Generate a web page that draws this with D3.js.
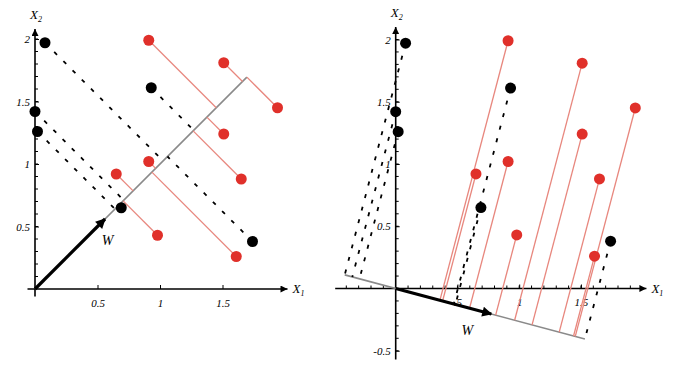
<!DOCTYPE html>
<html><head><meta charset="utf-8">
<script src="https://cdn.jsdelivr.net/npm/d3@7"></script>
<style>
body{margin:0;background:#fff;}
svg text{font-family:"Liberation Serif","DejaVu Serif",serif;font-style:italic;}
</style></head>
<body><svg id="c" width="684" height="369"></svg>
<script>
// ---- data ----
const blackX = [0.08, 0.00, 0.02, 0.93, 0.69, 1.74];
const blackY = [1.97, 1.42, 1.26, 1.61, 0.65, 0.38];
const redX = [0.91, 1.51, 1.94, 1.51, 1.65, 0.91, 0.65, 0.98, 1.61];
const redY = [1.99, 1.81, 1.45, 1.24, 0.88, 1.02, 0.92, 0.43, 0.26];
const wLeft = [0.56, 0.56];
const wRight = [0.774, -0.205];
const leftXTicks = [0.5, 1, 1.5];
const leftXLabels = ["0.5", "1", "1.5"];
const leftYTicks = [0.5, 1, 1.5, 2];
const leftYLabels = ["0.5", "1", "1.5", "2"];
const rightXTicks = [0.5, 1, 1.5];
const rightXLabels = [".5", "1", "1.5"];
const rightYTicks = [-0.5, 0.5, 1, 1.5, 2];
const rightYLabels = ["-0.5", "0.5", "1", "1.5", "2"];

const svg = d3.select("#c");
const defs = svg.append("defs");
defs.append("marker").attr("id","ax").attr("viewBox","0 0 10 10").attr("refX",10).attr("refY",5)
  .attr("markerWidth",9).attr("markerHeight",7).attr("markerUnits","userSpaceOnUse").attr("orient","auto")
  .append("path").attr("d","M0,0L10,5L0,10z").attr("fill","#000");
defs.append("marker").attr("id","wa").attr("viewBox","0 0 10 10").attr("refX",9).attr("refY",5)
  .attr("markerWidth",14).attr("markerHeight",10).attr("markerUnits","userSpaceOnUse").attr("orient","auto")
  .append("path").attr("d","M0,0L10,5L0,10z").attr("fill","#000");

const blacks = blackX.map((x,i)=>({x, y:blackY[i]}));
const reds = redX.map((x,i)=>({x, y:redY[i]}));

function panel(cfg){
  const {x, y, w, xDom, yDom, xT, xL, yT, yL, minorX, minorY, wLabel, startAtOrigin} = cfg;
  const g = svg.append("g");
  // axes lines with arrows
  g.append("line").attr("x1",x(xDom[0])).attr("x2",x(xDom[1])).attr("y1",y(0)).attr("y2",y(0))
    .attr("stroke","#000").attr("stroke-width",1.6).attr("marker-end","url(#ax)");
  g.append("line").attr("x1",x(0)).attr("x2",x(0)).attr("y1",y(yDom[0])).attr("y2",y(yDom[1]))
    .attr("stroke","#000").attr("stroke-width",1.6).attr("marker-end","url(#ax)");
  // minor ticks
  const mx = d3.range(Math.ceil(xDom[0]*10), Math.floor(xDom[1]*10)+1).map(v=>v/10).filter(v=>Math.abs(v)>1e-9 && v < xDom[1]-0.06);
  const my = d3.range(Math.ceil(yDom[0]*10), Math.floor(yDom[1]*10)+1).map(v=>v/10).filter(v=>Math.abs(v)>1e-9 && v < yDom[1]-0.06);
  if(minorX){
    g.selectAll(".mx").data(mx).join("line").attr("x1",d=>x(d)).attr("x2",d=>x(d))
      .attr("y1",y(0)).attr("y2",y(0)-3).attr("stroke","#000").attr("stroke-width",1);
  }
  if(minorY){
    g.selectAll(".my").data(my).join("line").attr("y1",d=>y(d)).attr("y2",d=>y(d))
      .attr("x1",x(0)).attr("x2",x(0)+3).attr("stroke","#000").attr("stroke-width",1);
  }
  // major ticks via d3 axes
  const ax = g.append("g").attr("transform",`translate(0,${y(0)})`)
    .call(d3.axisBottom(x).tickValues(xT).tickFormat((d,i)=>xL[i]).tickSizeInner(-4).tickSizeOuter(0).tickPadding(8));
  ax.select(".domain").remove();
  ax.selectAll("text").attr("font-size",11).attr("font-family",null).attr("dy","0.9em");
  const ay = g.append("g").attr("transform",`translate(${x(0)},0)`)
    .call(d3.axisLeft(y).tickValues(yT).tickFormat((d,i)=>yL[i]).tickSizeInner(-4).tickSizeOuter(0).tickPadding(5));
  ay.select(".domain").remove();
  ay.selectAll("text").attr("font-size",11).attr("font-family",null);
  // axis titles
  const tx = g.append("text").attr("x",x(xDom[1])+5).attr("y",y(0)+4).attr("font-size",13);
  tx.append("tspan").text("X");
  tx.append("tspan").attr("font-size",8).attr("dy",3).text("1");
  const ty = g.append("text").attr("x",x(0)-5).attr("y",y(yDom[1])-10).attr("font-size",13);
  ty.append("tspan").text("X");
  ty.append("tspan").attr("font-size",8).attr("dy",3).text("2");

  // projection
  const n = Math.hypot(w[0], w[1]);
  const u = [w[0]/n, w[1]/n];
  const proj = p => { const t = p.x*u[0]+p.y*u[1]; return {t, x:t*u[0], y:t*u[1]}; };
  const all = blacks.concat(reds).map(p=>proj(p).t);
  const tMin = startAtOrigin ? Math.min(0, d3.min(all)) : d3.min(all);
  const tMax = d3.max(all);
  g.append("line").attr("x1",x(tMin*u[0])).attr("y1",y(tMin*u[1])).attr("x2",x(tMax*u[0])).attr("y2",y(tMax*u[1]))
    .attr("stroke","#8a8a8a").attr("stroke-width",1.6);
  g.selectAll(".rl").data(reds).join("line")
    .attr("x1",d=>x(d.x)).attr("y1",d=>y(d.y)).attr("x2",d=>x(proj(d).x)).attr("y2",d=>y(proj(d).y))
    .attr("stroke","#e8877e").attr("stroke-width",1.3);
  g.selectAll(".bl").data(blacks).join("line")
    .attr("x1",d=>x(d.x)).attr("y1",d=>y(d.y)).attr("x2",d=>x(proj(d).x)).attr("y2",d=>y(proj(d).y))
    .attr("stroke","#000").attr("stroke-width",1.8).attr("stroke-dasharray","4,9");
  // w arrow
  g.append("line").attr("x1",x(0)).attr("y1",y(0)).attr("x2",x(w[0])).attr("y2",y(w[1]))
    .attr("stroke","#000").attr("stroke-width",3.2).attr("marker-end","url(#wa)");
  g.append("text").attr("x",wLabel[0]).attr("y",wLabel[1]).attr("font-size",14).attr("text-anchor","middle").text("W");
  // points
  g.selectAll(".rp").data(reds).join("circle").attr("cx",d=>x(d.x)).attr("cy",d=>y(d.y)).attr("r",5.5).attr("fill","#e0302a");
  g.selectAll(".bp").data(blacks).join("circle").attr("cx",d=>x(d.x)).attr("cy",d=>y(d.y)).attr("r",5.5).attr("fill","#000");
}

// left panel
const xLs = d3.scaleLinear().domain([0,1]).range([35,160]);
const yLs = d3.scaleLinear().domain([0,1]).range([289,164]);
panel({x:xLs, y:yLs, w:wLeft, xDom:[-0.06, 2.02], yDom:[-0.06, 2.08],
  xT:leftXTicks, xL:leftXLabels, yT:leftYTicks, yL:leftYLabels, minorX:false, minorY:true,
  wLabel:[xLs(0.58), yLs(0.35)], startAtOrigin:true});

// right panel
const xRs = d3.scaleLinear().domain([0,1]).range([395.7,519.2]);
const yRs = d3.scaleLinear().domain([0,1]).range([288.5,164]);
panel({x:xRs, y:yRs, w:wRight, xDom:[-0.49, 2.03], yDom:[-0.57, 2.1],
  xT:rightXTicks, xL:rightXLabels, yT:rightYTicks, yL:rightYLabels, minorX:true, minorY:true,
  wLabel:[xRs(0.58), yRs(-0.37)], startAtOrigin:false});
</script></body></html>
